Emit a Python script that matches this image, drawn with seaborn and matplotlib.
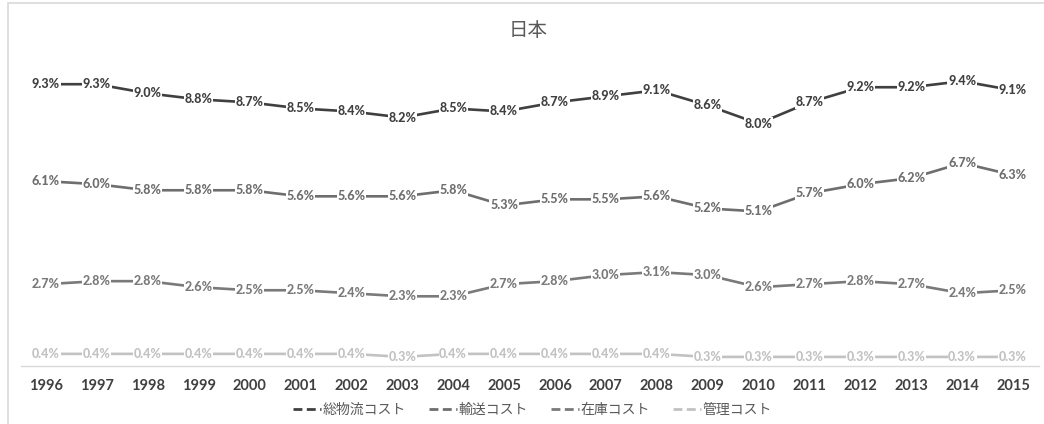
import matplotlib
matplotlib.use("Agg")
import matplotlib.pyplot as plt
from matplotlib.lines import Line2D
from matplotlib.patches import Rectangle
import seaborn as sns
import pandas as pd

# data (% of GDP)
years = list(range(1996, 2016))
series_names = ["総物流コスト", "輸送コスト", "在庫コスト", "管理コスト"]
total_cost = [9.3, 9.3, 9.0, 8.8, 8.7, 8.5, 8.4, 8.2, 8.5, 8.4,
              8.7, 8.9, 9.1, 8.6, 8.0, 8.7, 9.2, 9.2, 9.4, 9.1]
transport_cost = [6.1, 6.0, 5.8, 5.8, 5.8, 5.6, 5.6, 5.6, 5.8, 5.3,
                  5.5, 5.5, 5.6, 5.2, 5.1, 5.7, 6.0, 6.2, 6.7, 6.3]
inventory_cost = [2.7, 2.8, 2.8, 2.6, 2.5, 2.5, 2.4, 2.3, 2.3, 2.7,
                  2.8, 3.0, 3.1, 3.0, 2.6, 2.7, 2.8, 2.7, 2.4, 2.5]
admin_cost = [0.4, 0.4, 0.4, 0.4, 0.4, 0.4, 0.4, 0.3, 0.4, 0.4,
              0.4, 0.4, 0.4, 0.3, 0.3, 0.3, 0.3, 0.3, 0.3, 0.3]

colors = ["#404040", "#6e6e6e", "#7a7a7a", "#c2c2c2"]

df = pd.DataFrame({
    "year": years * 4,
    "value": total_cost + transport_cost + inventory_cost + admin_cost,
    "series": [s for s in series_names for _ in years],
})

sns.set_theme(style="white")
plt.rcParams["font.family"] = ["Lato", "Noto Sans CJK JP", "DejaVu Sans"]

fig = plt.figure(figsize=(10.44, 4.24), dpi=100)
ax = fig.add_axes([20.5 / 1044, 58 / 424, 1018 / 1044, 303 / 424])

sns.lineplot(data=df, x="year", y="value", hue="series", hue_order=series_names,
             palette=colors, linewidth=1.9, ax=ax, legend=False, zorder=2)

# data labels centred on the points
for name, col in zip(series_names, colors):
    sub = df[df["series"] == name]
    for x, y in zip(sub["year"], sub["value"]):
        ax.text(x, y, f"{y:.1f}%", ha="center", va="center", fontsize=9,
                fontweight="black", color=col, family=["Lato", "DejaVu Sans"],
                bbox=dict(boxstyle="square,pad=0.05", fc="white", ec="none"),
                zorder=3)

ax.set_xlim(1995.5, 2015.5)
ax.set_ylim(0, 10)
ax.set_xticks(years)
ax.set_xticklabels([str(y) for y in years], fontsize=10.5, color="#404040",
                   fontweight="bold", family=["Lato", "DejaVu Sans"])
ax.tick_params(axis="x", length=0, pad=9)
ax.set_yticks([])
ax.set_xlabel("")
ax.set_ylabel("")
for side in ["top", "right", "left"]:
    ax.spines[side].set_visible(False)
ax.spines["bottom"].set_color("#d9d9d9")
ax.spines["bottom"].set_linewidth(1.0)
ax.patch.set_alpha(0)

fig.text(0.506, 1 - 30 / 424, "日本", ha="center", va="center", fontsize=14,
         color="#595959", family=["Noto Sans CJK JP", "DejaVu Sans"])

handles = [Line2D([0], [0], color=c, lw=2.0, linestyle=(0, (3.2, 1.6))) for c in colors]
fig.legend(handles, series_names, loc="center", bbox_to_anchor=(0.51, 1 - 410 / 424),
           ncol=4, frameon=False, labelcolor="#595959",
           handlelength=2.0, handletextpad=0.1, columnspacing=1.7,
           prop={"family": ["Noto Sans CJK JP", "DejaVu Sans"], "size": 10})

# chart area border (only left and top visible in the crop)
fig.patches.append(Rectangle((8 / 1044, -0.1), 1.2, 1.1 - 3 / 424, transform=fig.transFigure,
                             fill=False, ec="#d9d9d9", lw=1.2, zorder=0))

fig.savefig("out.png", dpi=100)
